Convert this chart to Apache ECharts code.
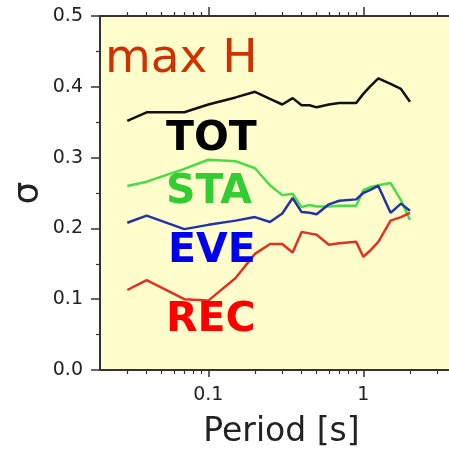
<!DOCTYPE html>
<html>
<head>
<meta charset="utf-8">
<script src="https://cdn.jsdelivr.net/npm/echarts@6/dist/echarts.min.js"></script>
<style>
  html, body { margin: 0; padding: 0; background: #ffffff; }
  #chart { width: 449px; height: 451px; }
</style>
</head>
<body>
<div id="chart"></div>
<script>
// Periods (s) shared by all four sigma curves
const periods = [0.03, 0.04, 0.07, 0.1, 0.15, 0.2, 0.25, 0.3, 0.35, 0.4, 0.45, 0.5,
                 0.6, 0.7, 0.9, 1.0, 1.1, 1.25, 1.5, 1.75, 2.0];

// Standard deviations, max horizontal component
const sigmaTOT = [0.352, 0.364, 0.364, 0.375, 0.385, 0.393, 0.383, 0.375, 0.384, 0.374, 0.374, 0.371,
                  0.375, 0.377, 0.377, 0.390, 0.400, 0.412, 0.404, 0.397, 0.379];
const sigmaSTA = [0.260, 0.266, 0.284, 0.297, 0.295, 0.285, 0.261, 0.247, 0.249, 0.230, 0.233, 0.231,
                  0.231, 0.232, 0.232, 0.254, 0.258, 0.261, 0.264, 0.240, 0.212];
const sigmaEVE = [0.208, 0.218, 0.199, 0.205, 0.211, 0.216, 0.209, 0.221, 0.243, 0.223, 0.222, 0.220,
                  0.234, 0.239, 0.241, 0.250, 0.254, 0.260, 0.222, 0.235, 0.225];
const sigmaREC = [0.113, 0.127, 0.100, 0.098, 0.130, 0.164, 0.178, 0.178, 0.166, 0.195, 0.193, 0.191,
                  0.177, 0.179, 0.181, 0.160, 0.168, 0.181, 0.211, 0.216, 0.222];

// Axis ticks
const xMajorTicks = [0.1, 1];
const xMinorTicks = [0.03, 0.04, 0.05, 0.06, 0.07, 0.08, 0.09,
                     0.2, 0.3, 0.4, 0.5, 0.6, 0.7, 0.8, 0.9, 2, 3, 4];
const xMin = 0.02, xMax = 4.4;
const yMin = 0, yMax = 0.5, yStep = 0.1;

const FONT = 'DejaVu Sans';
const AXIS_COLOR = '#333333';

const chart = echarts.init(document.getElementById('chart'), null, { renderer: 'canvas' });

function logAxis(position, opts) {
  return Object.assign({
    type: 'log',
    logBase: 10,
    min: xMin,
    max: xMax,
    position: position,
    gridIndex: 0,
    splitLine: { show: false },
    axisLine: { show: false },
    axisLabel: { show: false },
    axisTick: { show: false }
  }, opts);
}

const xAxes = [
  logAxis('bottom', {
    axisLine: { show: true, lineStyle: { color: AXIS_COLOR, width: 2 } },
    axisTick: { show: true, customValues: xMajorTicks, length: 7, lineStyle: { color: AXIS_COLOR, width: 1.5 } },
    axisLabel: {
      show: true, customValues: xMajorTicks, margin: 16,
      fontFamily: FONT, fontSize: 19, color: '#222222',
      formatter: v => String(v)
    },
    name: 'Period [s]',
    nameLocation: 'middle',
    nameGap: 46,
    nameTextStyle: { fontFamily: FONT, fontSize: 33, color: '#222222' }
  }),
  logAxis('bottom', {
    axisTick: { show: true, customValues: xMinorTicks, length: 4, lineStyle: { color: AXIS_COLOR, width: 1.2 } }
  }),
  logAxis('top', {
    axisLine: { show: true, lineStyle: { color: AXIS_COLOR, width: 2 } },
    axisTick: { show: true, customValues: xMajorTicks, length: 9, lineStyle: { color: AXIS_COLOR, width: 1.5 } }
  }),
  logAxis('top', {
    axisTick: { show: true, customValues: xMinorTicks, length: 4, lineStyle: { color: AXIS_COLOR, width: 1.2 } }
  })
];

function pairs(vals) {
  return periods.map((p, i) => [p, vals[i]]);
}

function curve(name, vals, color) {
  return {
    name: name,
    type: 'line',
    xAxisIndex: 0,
    yAxisIndex: 0,
    data: pairs(vals),
    symbol: 'none',
    smooth: false,
    silent: true,
    lineStyle: { color: color, width: 2.5 },
    z: 3
  };
}

function tag(text, x, y, color, size, weight) {
  return {
    type: 'text',
    left: x,
    top: y,
    z: 10,
    style: {
      text: text,
      fill: color,
      font: (weight || 'normal') + ' ' + size + 'px "' + FONT + '"'
    }
  };
}

chart.setOption({
  animation: false,
  backgroundColor: '#ffffff',
  grid: {
    left: 100,
    top: 16,
    width: 363,
    height: 354,
    show: true,
    backgroundColor: '#FFFDCC',
    borderWidth: 0,
    containLabel: false,
    outerBoundsMode: 'none'
  },
  xAxis: xAxes,
  yAxis: {
    type: 'value',
    min: yMin,
    max: yMax,
    interval: yStep,
    splitLine: { show: false },
    axisLine: { show: true, lineStyle: { color: AXIS_COLOR, width: 2 } },
    axisTick: { show: true, length: 9, lineStyle: { color: AXIS_COLOR, width: 1.5 } },
    minorTick: { show: true, splitNumber: 2, length: 4, lineStyle: { color: AXIS_COLOR, width: 1.2 } },
    axisLabel: {
      margin: 17,
      fontFamily: FONT, fontSize: 19, color: '#222222',
      formatter: v => v.toFixed(1)
    },
    name: 'σ',
    nameLocation: 'middle',
    nameRotate: 90,
    nameGap: 53,
    nameMoveOverlap: false,
    nameTextStyle: { fontFamily: FONT, fontSize: 36, color: '#222222' }
  },
  series: [
    curve('TOT', sigmaTOT, '#111111'),
    curve('STA', sigmaSTA, '#44DD44'),
    curve('EVE', sigmaEVE, '#2233AA'),
    curve('REC', sigmaREC, '#DD3322')
  ],
  graphic: [
    tag('max H', 105, 36, '#CC3300', 47),
    tag('TOT', 166, 119, '#000000', 41, 'bold'),
    tag('STA', 166, 172, '#33CC33', 41, 'bold'),
    tag('EVE', 168, 231, '#0000EE', 41, 'bold'),
    tag('REC', 166, 300, '#FF0000', 41, 'bold')
  ]
});
</script>
</body>
</html>
